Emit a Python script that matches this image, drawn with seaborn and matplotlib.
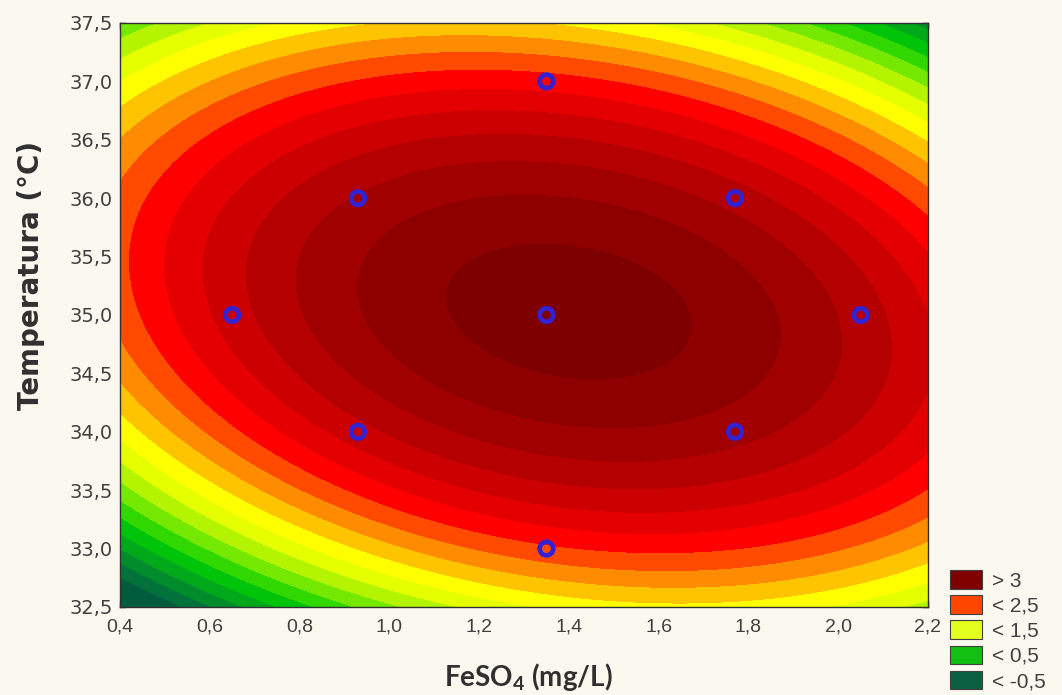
import numpy as np
import matplotlib
matplotlib.use("Agg")
import matplotlib.pyplot as plt
from matplotlib.colors import ListedColormap, BoundaryNorm
from matplotlib.patches import Patch
import seaborn as sns

# ---------------- data ----------------
# experimental design points (FeSO4 mg/L, Temperature °C)
feso4_pts = [0.93, 1.35, 1.77, 0.65, 1.35, 2.05, 0.93, 1.77, 1.35]
temp_pts = [36.0, 37.0, 36.0, 35.0, 35.0, 35.0, 34.0, 34.0, 33.0]

# fitted quadratic response surface (estimated from the contour bands)
opt_x, opt_y, opt_z = 1.40, 35.03, 3.05
coef_xx, coef_xy, coef_yy = 0.711, 0.1404, 0.160

# contour levels and band colours (low -> high)
levels = [-2.0, 1.2, 1.3, 1.4, 1.5, 1.6, 1.7, 1.8, 1.9, 2.0, 2.1,
          2.2, 2.3, 2.4, 2.5, 2.6, 2.7, 2.8, 2.9, 3.0, 4.0]
band_colors = ["#005c3c", "#00723a", "#008c2a", "#00a81a", "#00c40a",
               "#30d800", "#74e800", "#b4f400", "#e6ff00", "#ffff00",
               "#ffc400", "#ff8c00", "#ff4a00", "#ff0000", "#e40000",
               "#cc0000", "#b40000", "#a00000", "#8e0000", "#7e0000"]

legend_labels = ["> 3", "< 2,5", "< 1,5", "< 0,5", "< -0,5"]
legend_colors = ["#800000", "#ff4500", "#e4ff1e", "#12c012", "#0b6044"]

x_ticks = [0.4, 0.6, 0.8, 1.0, 1.2, 1.4, 1.6, 1.8, 2.0, 2.2]
x_ticklabels = ["0,4", "0,6", "0,8", "1,0", "1,2", "1,4", "1,6", "1,8", "2,0", "2,2"]
y_ticks = [32.5, 33.0, 33.5, 34.0, 34.5, 35.0, 35.5, 36.0, 36.5, 37.0, 37.5]
y_ticklabels = ["32,5", "33,0", "33,5", "34,0", "34,5", "35,0", "35,5",
                "36,0", "36,5", "37,0", "37,5"]
x_range = [0.4, 2.2]
y_range = [32.5, 37.5]

# ---------------- drawing ----------------
sns.set_style("ticks")
bg = "#fbf8ef"
plt.rcParams["mathtext.default"] = "regular"

fig = plt.figure(figsize=(10.62, 6.95), dpi=100, facecolor=bg)
ax = fig.add_axes([120 / 1062, 88 / 695, 808 / 1062, 584 / 695])

gx = np.linspace(x_range[0], x_range[1], 500)
gy = np.linspace(y_range[0], y_range[1], 500)
X, Y = np.meshgrid(gx, gy)
dx, dy = X - opt_x, Y - opt_y
Z = opt_z - coef_xx * dx ** 2 - coef_xy * dx * dy - coef_yy * dy ** 2

cmap = ListedColormap(band_colors)
norm = BoundaryNorm(levels, cmap.N)
cs = ax.contourf(X, Y, Z, levels=levels, cmap=cmap, norm=norm)
cs.set_edgecolor("face")
cs.set_linewidth(0.8)

sns.scatterplot(x=feso4_pts, y=temp_pts, ax=ax, marker="o", s=95,
                facecolor="none", edgecolor="#3222d4", linewidth=3.4,
                zorder=5, legend=False)

ax.set_xlim(*x_range)
ax.set_ylim(*y_range)
ax.set_xticks(x_ticks)
ax.set_xticklabels(x_ticklabels, fontsize=14, color="#404040",
                   family=["Liberation Sans Narrow", "Liberation Sans"])
ax.set_yticks(y_ticks)
ax.set_yticklabels(y_ticklabels, fontsize=14, color="#404040",
                   family="DejaVu Sans")
ax.tick_params(axis="both", direction="in", length=4, width=1,
               color="#202020", top=True, right=True)
ax.tick_params(axis="x", pad=8)
ax.tick_params(axis="y", pad=5)
for sp in ax.spines.values():
    sp.set_visible(True)
    sp.set_color("#303030")
    sp.set_linewidth(1.0)
ax.set_xlabel("")
ax.set_ylabel("")

fig.text(31 / 1062, 1 - 275 / 695, "Temperatura (°C)", rotation=90,
         ha="center", va="center", fontsize=20, fontweight="bold",
         family="DejaVu Sans", color="#303030")
fig.text(528 / 1062, 1 - 677 / 695, "FeSO$_4$ (mg/L)", ha="center",
         va="center", fontsize=20, fontweight="bold", family="Lato",
         color="#303030")

handles = [Patch(facecolor=c, edgecolor="#404040", linewidth=0.8)
           for c in legend_colors]
fig.legend(handles, legend_labels, loc="lower left",
           bbox_to_anchor=(950 / 1062, 4 / 695), frameon=False,
           prop={"family": "Liberation Sans", "size": 15},
           labelcolor="#404040", handlelength=1.55, handleheight=1.0,
           labelspacing=0.22, handletextpad=0.45, borderpad=0,
           borderaxespad=0)

fig.savefig("out.png", dpi=100, facecolor=bg)
